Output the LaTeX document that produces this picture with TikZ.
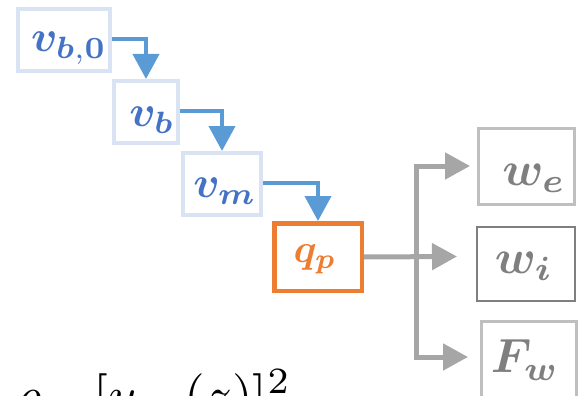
\documentclass[tikz,border=0pt]{standalone}
\usepackage{bm}
\usetikzlibrary{arrows.meta}
\definecolor{vblue}{HTML}{4472C4}
\definecolor{ablue}{HTML}{5B9BD5}
\definecolor{lblue}{HTML}{DAE3F3}
\definecolor{orng}{HTML}{ED7D31}
\definecolor{gtxt}{HTML}{7F7F7F}
\definecolor{garr}{HTML}{A6A6A6}
\definecolor{gbox}{HTML}{BFBFBF}
\begin{document}
\begin{tikzpicture}[x=1pt,y=-1pt,
  vbox/.style={draw=lblue,line width=4pt,inner sep=0pt},
  obox/.style={draw=orng,line width=4.5pt,inner sep=0pt},
  gboxs/.style={draw=gbox,line width=3pt,inner sep=0pt},
  dbox/.style={draw=gtxt,line width=2pt,inner sep=0pt},
  vlbl/.style={inner sep=0pt,text=vblue},
  olbl/.style={inner sep=0pt,text=orng},
  glbl/.style={inner sep=0pt,text=gtxt},
  barrow/.style={draw=ablue,line width=4pt,-{Triangle[width=26pt,length=25pt]}},
  garrow/.style={draw=garr,line width=5pt,-{Triangle[width=26pt,length=25pt]}},
]
\useasboundingbox (0,0) rectangle (584,396);
\clip (0,0) rectangle (584,396);
% boxes
\node[vbox,minimum width=92pt,minimum height=62pt] (v0) at (64,40) {};
\node[vbox,minimum width=64pt,minimum height=62pt] (vb) at (146,112) {};
\node[vbox,minimum width=78pt,minimum height=62pt] (vm) at (222,184) {};
\node[obox,minimum width=87.5pt,minimum height=67.5pt] (qp) at (318,257) {};
\node[gboxs,minimum width=96pt,minimum height=76pt] (we) at (526.5,166.5) {};
\node[dbox,minimum width=98pt,minimum height=74pt] (wi) at (526,264) {};
\node[gboxs,minimum width=95pt,minimum height=78pt] (Fw) at (529,360) {};
% labels
\node[vlbl] (t0) at (69,48) {\scalebox{4.4}{$\bm{v}_{\bm{b},\bm{0}}$}};
\node[vlbl] (tb) at (152,120) {\scalebox{4.4}{$\bm{v}_{\bm{b}}$}};
\node[vlbl] (tm) at (225,191) {\scalebox{4.4}{$\bm{v}_{\bm{m}}$}};
\node[olbl] (tq) at (315,259) {\scalebox{4.0}{$\bm{q}_{\bm{p}}$}};
\node[glbl] (te) at (534,178) {\scalebox{4.8}{$\bm{w}_{\bm{e}}$}};
\node[glbl] (ti) at (524,266) {\scalebox{4.8}{$\bm{w}_{\bm{i}}$}};
\node[glbl] (tF) at (525,360) {\scalebox{4.8}{$\bm{F}_{\bm{w}}$}};
% formula (cut by the lower edge)
\node[inner sep=0pt,anchor=base west] (eq) at (14,413)
  {\scalebox{5.3}{$\rho\hspace{9.8pt}[u\hspace{8.7pt}(z)]^{2}$}};
% blue arrows
\draw[barrow] ([yshift=1pt]v0.east) -| (vb.north);
\draw[barrow] ([yshift=1pt]vb.east) -| (vm.north);
\draw[barrow] ([yshift=1pt]vm.east) -| (qp.north);
% grey arrows
\coordinate (br) at (416.5,256.5);
\coordinate (we-in) at (470,166);
\coordinate (wi-in) at (457,256.5);
\coordinate (Fw-in) at (468,357);
\draw[garrow] (qp.east) -- (wi-in);
\draw[garrow] (br) |- (we-in);
\draw[garrow] (br) |- (Fw-in);
\end{tikzpicture}
\end{document}
